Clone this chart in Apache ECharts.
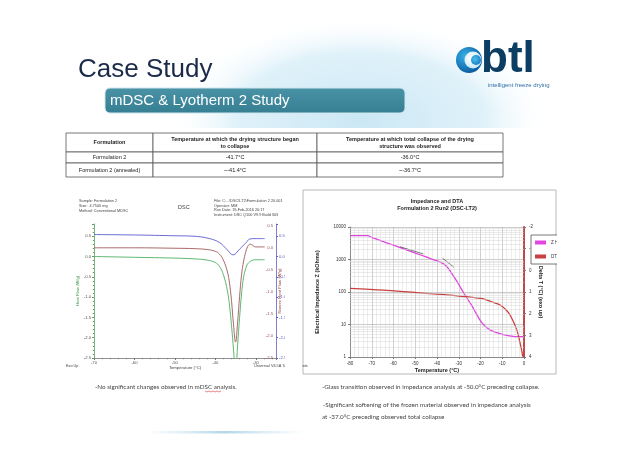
<!DOCTYPE html>
<html><head><meta charset="utf-8">
<script src="https://cdn.jsdelivr.net/npm/echarts/dist/echarts.min.js"></script>
<style>html,body{margin:0;padding:0;background:#fff}#c{width:638px;height:451px}</style>
</head><body><div id="c"></div><script>
// ---------- DATA ----------
const titleText = "Case Study";
const subtitleText = "mDSC & Lyotherm 2 Study";
const tableHeader = ["Formulation", "Temperature at which the drying structure began\nto collapse", "Temperature at which total collapse of the drying\nstructure was observed"];
const tableRow1 = ["Formulation 2", "-41.7°C", "-36.0°C"];
const tableRow2 = ["Formulation 2 (annealed)", "~-41.4°C", "~-36.7°C"];

// DSC (TA Universal Analysis) panel
const dscGreenT = [-70,-60,-50,-45,-42,-40,-39,-38,-37,-36.5,-36,-35.5,-35,-34.5,-34,-33.5,-33,-32.5,-32,-31,-30,-27.8];
const dscGreenV = [0.0,-0.02,-0.04,-0.06,-0.09,-0.15,-0.24,-0.45,-0.85,-1.2,-1.7,-2.3,-2.9,-2.2,-1.5,-0.9,-0.5,-0.3,-0.18,-0.1,-0.08,-0.08];
const dscRedT = [-70,-60,-50,-45,-42,-40,-39,-38,-37,-36.5,-36,-35.5,-35,-34.5,-34,-33.5,-33,-32.5,-32,-31.5,-31,-30,-27.8];
const dscRedV = [0.0,0.0,-0.01,-0.02,-0.04,-0.08,-0.14,-0.28,-0.55,-0.8,-1.2,-1.75,-2.14,-1.7,-1.1,-0.6,-0.3,-0.1,0.03,0.08,0.07,0.02,0.02];
const dscBlueT = [-70,-60,-50,-45.5,-41.4,-38.9,-37.2,-35.6,-34,-32.3,-31.5,-30.2,-27.8];
const dscBlueV = [0.54,0.53,0.51,0.5,0.44,0.34,0.18,0.04,0.18,0.35,0.43,0.44,0.44];
const dscXTicks = [-70,-60,-50,-40,-30];

// Impedance / DTA panel
const zTemp = [-80,-72,-70,-65,-60,-55,-50,-45,-40,-38,-36,-34,-32,-30,-28,-26,-24,-22,-20,-18,-15,-10,-5,0];
const zVal  = [5400,5400,4800,3630,2750,2090,1580,1200,910,800,650,450,280,170,100,62,38,22,13,9,6.5,5,4.3,4.2];
const dtaTemp = [-80,-64.7,-49.3,-34,-26.4,-18.7,-15,-11,-8,-6.4,-3.3,-1.1,-0.6];
const dtaVal  = [0.83,0.91,1.03,1.14,1.22,1.32,1.45,1.6,1.85,2.06,2.75,3.68,3.98];
const tangent1T = [-57,-46.3], tangent1V = [2470,1480];
const tangent2T = [-37.4,-32.2], tangent2V = [1090,575];
const legendNames = ["Z Heating", "DTA Heating"];

const bottomLeft = "-No significant changes observed in mDSC analysis.";
const bottomRight1 = "-Glass transition observed in impedance analysis at -50.0°C preceding collapse.";
const bottomRight2 = "-Significant softening of the frozen material observed in impedance analysis";
const bottomRight3 = "at -37.0°C preceding observed total collapse";

// ---------- BUILD ----------
const zip = (a, b) => a.map((v, i) => [v, b[i]]);
const AR = '"Liberation Sans", Arial, sans-serif';
const CAL = 'Lato, "Open Sans", sans-serif';
function T(x, y, text, size, fill, extra) {
  return Object.assign({ type: 'text', x: x, y: y, z: 50,
    style: Object.assign({ text: text, fontSize: size, fontFamily: AR, fill: fill || '#333',
      align: 'left', verticalAlign: 'middle' }, extra || {}) });
}
const g = [];
// background swoosh
g.push({ type: 'circle', x: 360, y: 120, scaleX: 0.96, scaleY: 0.52, z: -5,
  shape: { cx: 0, cy: 0, r: 200 },
  style: { fill: { type: 'radial', x: 0.5, y: 0.5, r: 0.5, colorStops: [
    { offset: 0, color: 'rgba(200,230,244,0.95)' }, { offset: 0.65, color: 'rgba(215,238,248,0.8)' }, { offset: 1, color: 'rgba(255,255,255,0)' }] } } });
g.push({ type: 'rect', z: -4, shape: { x: 0, y: 128, width: 638, height: 323 }, style: { fill: '#fff' } });
// title
g.push(T(78, 70, titleText, 26, '#1b2a48'));
// subtitle bar
g.push({ type: 'rect', z: 10, shape: { x: 105, y: 88, width: 300, height: 25, r: 5 },
  style: { fill: { type: 'linear', x: 0, y: 0, x2: 0, y2: 1, colorStops: [
    { offset: 0, color: '#4a93a6' }, { offset: 1, color: '#367f93' }] }, stroke: '#cfe7ee', lineWidth: 1 } });
g.push(T(110, 101, subtitleText, 15, '#ffffff'));
// logo
g.push({ type: 'circle', z: 20, shape: { cx: 469, cy: 60, r: 13 },
  style: { fill: { type: 'radial', x: 0.35, y: 0.35, r: 0.7, colorStops: [{ offset: 0, color: '#38b0e8' }, { offset: 1, color: '#0a5a9e' }] } } });
g.push({ type: 'circle', z: 21, shape: { cx: 473, cy: 60, r: 8.5 },
  style: { fill: { type: 'radial', x: 0.4, y: 0.4, r: 0.7, colorStops: [{ offset: 0, color: '#ffffff' }, { offset: 1, color: '#bfe6f7' }] } } });
g.push({ type: 'circle', z: 22, shape: { cx: 476, cy: 60, r: 5 },
  style: { fill: { type: 'radial', x: 0.4, y: 0.4, r: 0.7, colorStops: [{ offset: 0, color: '#4fc0f0' }, { offset: 1, color: '#1277bf' }] } } });
g.push(T(481, 60, 'btl', 44, '#0c3e64', { fontWeight: 'bold' }));
g.push(T(488, 85, 'intelligent freeze drying', 6, '#2f6fa5'));

// table
const tx = [66, 153, 317, 503], ty = [133, 152, 163, 177];
for (let r = 0; r < 3; r++) for (let c = 0; c < 3; c++) {
  g.push({ type: 'rect', z: 20, shape: { x: tx[c], y: ty[r], width: tx[c + 1] - tx[c], height: ty[r + 1] - ty[r] },
    style: { fill: '#fff', stroke: '#555', lineWidth: 0.8 } });
}
const rowsAll = [tableHeader, tableRow1, tableRow2];
rowsAll.forEach((row, r) => row.forEach((txt, c) => {
  g.push(T((tx[c] + tx[c + 1]) / 2, (ty[r] + ty[r + 1]) / 2, txt, 5.5, '#222',
    { align: 'center', fontWeight: r === 0 ? 'bold' : 'normal', lineHeight: 7 }));
}));

// DSC panel texts
g.push(T(79, 206, 'Sample: Formulation 2\nSize:  4.7500 mg\nMethod: Conventional MDSC', 3.8, '#444', { lineHeight: 4.6 }));
g.push(T(178, 207, 'DSC', 5.5, '#444'));
g.push(T(214, 208, 'File: C:...\\DSC\\LT2\\Formulation 2 20.001\nOperator: MM\nRun Date: 19-Feb-2016 20:17\nInstrument: DSC Q100 V9.9 Build 303', 3.8, '#444', { lineHeight: 4.4 }));
g.push(T(66, 366, 'Exo Up', 3.8, '#444'));
g.push(T(254, 366, 'Universal V4.5A TA Instruments', 3.8, '#444'));
g.push({ type: 'rect', z: 60, shape: { x: 285, y: 192, width: 17, height: 185 }, style: { fill: '#fff' } });

// Impedance panel frame + cover for cropped legend
g.push({ type: 'rect', z: -3, shape: { x: 303, y: 190, width: 253, height: 184 }, style: { fill: '#fff', stroke: '#b8b8b8', lineWidth: 1 } });
g.push({ type: 'rect', z: 60, shape: { x: 557, y: 189, width: 60, height: 190 }, style: { fill: '#fff' } });
g.push(T(437, 201, 'Impedance and DTA', 5.5, '#222', { align: 'center', fontWeight: 'bold' }));
g.push(T(437, 208, 'Formulation 2 Run2 (DSC-LT2)', 5.5, '#222', { align: 'center', fontWeight: 'bold' }));

// bottom texts
g.push(T(95, 387, bottomLeft, 6.3, '#444', { fontFamily: CAL }));
g.push({ type: 'polyline', z: 55, shape: { points: [[205, 391], [207, 392], [209, 391], [211, 392], [213, 391], [215, 392], [217, 391], [219, 392], [221, 391]] }, style: { stroke: '#d33', lineWidth: 0.6, fill: null } });
g.push(T(322, 387, bottomRight1, 6.3, '#444', { fontFamily: CAL }));
g.push(T(323, 405, bottomRight2, 6.3, '#444', { fontFamily: CAL }));
g.push(T(322, 417, bottomRight3, 6.3, '#444', { fontFamily: CAL }));
g.push({ type: 'rect', z: -2, shape: { x: 145, y: 431, width: 160, height: 2.5 },
  style: { fill: { type: 'linear', x: 0, y: 0, x2: 1, y2: 0, colorStops: [
    { offset: 0, color: 'rgba(190,225,240,0)' }, { offset: 0.5, color: 'rgba(170,210,230,0.9)' }, { offset: 1, color: 'rgba(190,225,240,0)' }] } } });

const logMinor = [];
[1, 10, 100, 1000].forEach(d => { for (let k = 2; k <= 9; k++) logMinor.push({ yAxis: d * k }); });

const halfFmt = v => Math.abs(v * 2 - Math.round(v * 2)) < 1e-6 ? v.toFixed(1) : '';
const smallLbl = { fontSize: 4.2, fontFamily: AR };

const option = {
  animation: false,
  backgroundColor: '#fff',
  graphic: { elements: g },
  legend: { data: legendNames, orient: 'vertical', left: 531, top: 235, z: 40,
    itemWidth: 11, itemHeight: 4, itemGap: 9, padding: [5, 4], borderColor: '#555', borderWidth: 0.8,
    backgroundColor: '#fff', textStyle: { fontSize: 4.5, fontFamily: AR, color: '#333' }, icon: 'rect' },
  grid: [
    { left: 94, top: 224, width: 182, height: 134, containLabel: false },
    { left: 350, top: 227, width: 174, height: 130, containLabel: false }
  ],
  xAxis: [
    { type: 'value', gridIndex: 0, min: -70, max: -25, interval: 10,
      name: 'Temperature (°C)', nameLocation: 'middle', nameGap: 8, nameTextStyle: { fontSize: 4.2, fontFamily: AR, color: '#444' },
      axisLine: { onZero: false, lineStyle: { color: '#777', width: 0.8 } }, axisTick: { length: 2, lineStyle: { color: '#777' } },
      minorTick: { show: true, splitNumber: 5, length: 1.2 },
      axisLabel: Object.assign({ color: '#555', margin: 3, formatter: v => dscXTicks.includes(v) ? String(v) : '' }, smallLbl),
      splitLine: { show: false } },
    { type: 'value', gridIndex: 1, min: -80, max: 0, interval: 10,
      name: 'Temperature (°C)', nameLocation: 'middle', nameGap: 10,
      nameTextStyle: { fontSize: 5.5, fontFamily: AR, color: '#222', fontWeight: 'bold' },
      axisLine: { onZero: false, lineStyle: { color: '#777', width: 0.8 } }, axisTick: { length: 2 },
      axisLabel: { fontSize: 4.5, fontFamily: AR, color: '#333', margin: 4 },
      splitLine: { show: true, lineStyle: { color: '#b0b0b0', width: 0.6 } },
      minorTick: { show: false, splitNumber: 5 },
      minorSplitLine: { show: true, lineStyle: { color: '#dadada', width: 0.5 } } }
  ],
  yAxis: [
    { type: 'value', gridIndex: 0, min: -2.5, max: 0.8, interval: 0.5, position: 'left',
      name: 'Heat Flow (W/g)', nameLocation: 'middle', nameGap: 14, nameRotate: 90,
      nameTextStyle: { fontSize: 4.2, fontFamily: AR, color: '#3a9a4a' },
      axisLine: { show: true, onZero: false, lineStyle: { color: '#5aa060', width: 0.8 } }, axisTick: { length: 2 },
      minorTick: { show: true, splitNumber: 5, length: 1.2 },
      axisLabel: Object.assign({ color: '#555', margin: 3, formatter: halfFmt }, smallLbl), splitLine: { show: false } },
    { type: 'value', gridIndex: 0, min: -2.5, max: 0.54, interval: 0.5, position: 'right',
      name: 'Nonrev Heat Flow (W/g)', nameLocation: 'middle', nameGap: -17, nameRotate: 90,
      nameTextStyle: { fontSize: 4.2, fontFamily: AR, color: '#a04848' },
      axisLine: { show: false, onZero: false }, axisTick: { show: false },
      axisLabel: Object.assign({ color: '#9a5050', inside: true, margin: 3, formatter: halfFmt }, smallLbl), splitLine: { show: false } },
    { type: 'value', gridIndex: 0, min: -2.5, max: 0.8, interval: 0.5, position: 'right',
      axisLine: { show: true, onZero: false, lineStyle: { color: '#6060c0', width: 0.8 } }, axisTick: { length: 2, lineStyle: { color: '#6060c0' } },
      axisLabel: Object.assign({ color: '#5a5ac0', margin: 3, formatter: halfFmt }, smallLbl), splitLine: { show: false } },
    { type: 'log', gridIndex: 1, min: 1, max: 10000, logBase: 10,
      name: 'Electrical Impedance Z (kOhms)', nameLocation: 'middle', nameGap: 30, nameRotate: 90,
      nameTextStyle: { fontSize: 5.5, fontFamily: AR, color: '#222', fontWeight: 'bold' },
      axisLine: { show: true, onZero: false, lineStyle: { color: '#777', width: 0.8 } }, axisTick: { length: 2 },
      axisLabel: { fontSize: 4.5, fontFamily: AR, color: '#333', margin: 4, formatter: v => String(Math.round(v)) },
      splitLine: { show: true, lineStyle: { color: '#a8a8a8', width: 0.6 } } },
    { type: 'value', gridIndex: 1, min: -2, max: 4, interval: 1, inverse: true, position: 'right',
      name: 'Delta T (°C) (exo up)', nameLocation: 'middle', nameGap: 14, nameRotate: -90,
      nameTextStyle: { fontSize: 5.5, fontFamily: AR, color: '#222', fontWeight: 'bold' },
      axisLine: { show: true, onZero: false, lineStyle: { color: '#c04848', width: 2 } }, axisTick: { length: 2, lineStyle: { color: '#777' } },
      axisLabel: { fontSize: 4.5, fontFamily: AR, color: '#333', margin: 5 }, splitLine: { show: false } }
  ],
  series: [
    { name: 'Heat Flow', type: 'line', xAxisIndex: 0, yAxisIndex: 0, data: zip(dscGreenT, dscGreenV), smooth: 0.4,
      showSymbol: false, lineStyle: { color: '#4caf60', width: 0.9 }, itemStyle: { color: '#4caf60' }, clip: true },
    { name: 'Nonrev Heat Flow', type: 'line', xAxisIndex: 0, yAxisIndex: 1, data: zip(dscRedT, dscRedV), smooth: 0.4,
      showSymbol: false, lineStyle: { color: '#a05858', width: 0.9 }, itemStyle: { color: '#a05858' } },
    { name: 'Rev Heat Flow', type: 'line', xAxisIndex: 0, yAxisIndex: 2, data: zip(dscBlueT, dscBlueV), smooth: 0.4,
      showSymbol: false, lineStyle: { color: '#5a5ad0', width: 0.9 }, itemStyle: { color: '#5a5ad0' } },
    { name: 'Z Heating', type: 'line', xAxisIndex: 1, yAxisIndex: 3, data: zip(zTemp, zVal), smooth: 0.3,
      showSymbol: false, lineStyle: { color: '#e046e0', width: 1.3 }, itemStyle: { color: '#e046e0' },
      markLine: { silent: true, symbol: 'none', label: { show: false }, lineStyle: { color: '#d4d4d4', width: 0.5, type: 'solid' }, data: logMinor } },
    { name: 'DTA Heating', type: 'line', xAxisIndex: 1, yAxisIndex: 4, data: zip(dtaTemp, dtaVal), smooth: 0.3,
      showSymbol: false, lineStyle: { color: '#c84040', width: 1.3 }, itemStyle: { color: '#c84040' } },
    { name: 'tangent1', type: 'line', xAxisIndex: 1, yAxisIndex: 3, data: zip(tangent1T, tangent1V),
      showSymbol: false, lineStyle: { color: '#555', width: 0.8 } },
    { name: 'tangent2', type: 'line', xAxisIndex: 1, yAxisIndex: 3, data: zip(tangent2T, tangent2V),
      showSymbol: false, lineStyle: { color: '#555', width: 0.8 } }
  ]
};
const chart = echarts.init(document.getElementById('c'), null, { renderer: 'canvas' });
chart.setOption(option);
</script></body></html>
